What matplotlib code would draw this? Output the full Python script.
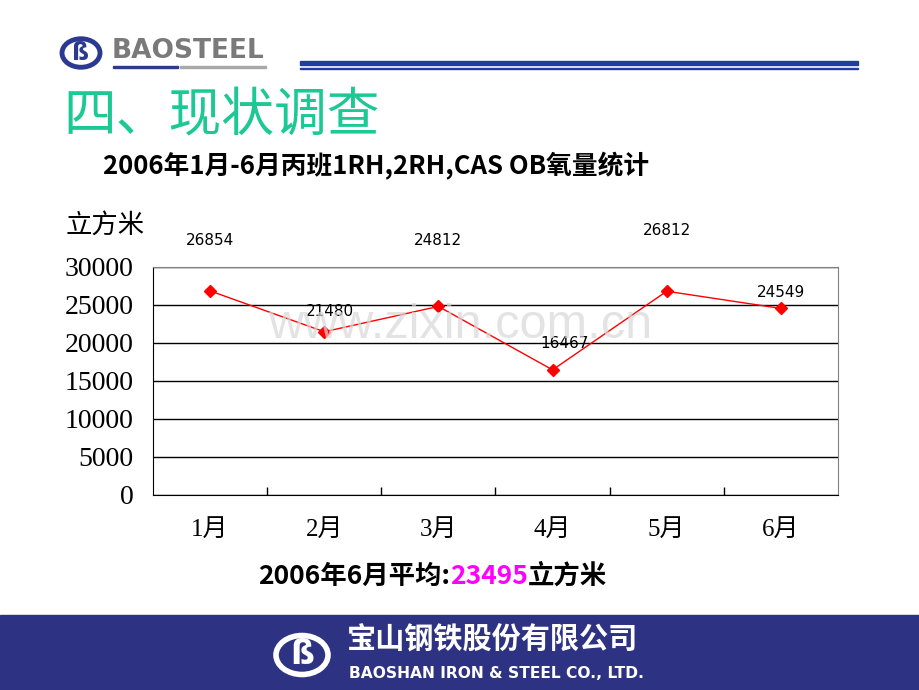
import matplotlib.pyplot as plt
from matplotlib.patches import Circle, Rectangle
import numpy as np

# Data
months = ['1月', '2月', '3月', '4月', '5月', '6月']
oxygen = [26854, 21480, 24812, 16467, 26812, 24549]
y_ticks = [0, 5000, 10000, 15000, 20000, 25000, 30000]
# where each value label sits (data units, layout only)
label_y = [33550, 24100, 33550, 20000, 34850, 26700]
label_dx = [0.0, 0.05, 0.0, 0.1, 0.0, 0.0]

W, H = 920, 690
CJK = ['Noto Sans CJK SC', 'DejaVu Sans']
SERIF_CJK = ['Liberation Serif', 'Noto Sans CJK SC']

fig = plt.figure(figsize=(W / 100, H / 100), dpi=100)


def fx(x):
    return x / W


def fy(y):
    return 1 - y / H


# Header: logo, name and double blue rule
fig.patches.append(Circle((fx(81), fy(53)), 19 / W, transform=fig.transFigure,
                          fill=False, ec='#2B3990', lw=3.5))
fig.text(fx(81), fy(53), 'ß', color='#2B3990', fontsize=17, fontweight='bold',
         ha='center', va='center')
fig.text(fx(112), fy(51), 'BAOSTEEL', color='#7A7A7A', fontsize=19,
         fontweight='bold', family='DejaVu Sans', ha='left', va='center')
fig.patches.append(Rectangle((fx(113), fy(68)), fx(65), 2 / H,
                             transform=fig.transFigure, color='#2B3990'))
fig.patches.append(Rectangle((fx(180), fy(68)), fx(86), 2 / H,
                             transform=fig.transFigure, color='#A8A8A8'))
fig.patches.append(Rectangle((fx(300), fy(65)), fx(558), 4 / H,
                             transform=fig.transFigure, color='#1F3C9E'))
fig.patches.append(Rectangle((fx(300), fy(69)), fx(558), 1.5 / H,
                             transform=fig.transFigure, color='#1F3C9E'))

# Titles
fig.text(fx(63), fy(116), '四、现状调查', color='#1CC893', fontsize=38,
         family=CJK, ha='left', va='center')
fig.text(fx(103), fy(166), '2006年1月-6月丙班1RH,2RH,CAS OB氧量统计',
         fontsize=18.5, fontweight='bold', family=CJK, ha='left', va='center')
fig.text(fx(66), fy(225), '立方米', fontsize=19, family=CJK,
         ha='left', va='center')

# Chart
ax = fig.add_axes([fx(153), fy(495), fx(838 - 153), (495 - 267) / H])
x = np.arange(len(months))
ax.plot(x, oxygen, color='#FF0000', lw=1, marker='D', ms=6,
        mfc='#FF0000', mec='#FF0000', zorder=3, clip_on=False)
for xi, v, ly, dx in zip(x, oxygen, label_y, label_dx):
    ax.text(xi + dx, ly, str(v), fontsize=11, ha='center', va='center',
            clip_on=False, zorder=4)

ax.set_xlim(-0.5, len(months) - 0.5)
ax.set_ylim(0, 30000)
ax.set_yticks(y_ticks)
ax.set_yticklabels([str(t) for t in y_ticks], family='Liberation Serif',
                   fontsize=20)
ax.set_xticks(x)
ax.set_xticklabels(months, family=SERIF_CJK, fontsize=18)
ax.set_xticks(x[:-1] + 0.5, minor=True)
ax.tick_params(axis='x', which='major', length=0, pad=17)
ax.tick_params(axis='x', which='minor', direction='in', length=6, width=1)
ax.tick_params(axis='y', length=0, pad=14)
ax.grid(axis='y', color='black', lw=1)
ax.set_axisbelow(True)
for side in ['left', 'bottom']:
    ax.spines[side].set_color('black')
for side in ['top', 'right']:
    ax.spines[side].set_color('#808080')

# Watermark
fig.text(fx(460), fy(326), 'www.zixin.com.cn', color='#D8D8D8', fontsize=35,
         family='Liberation Sans', ha='center', va='center', alpha=0.7,
         zorder=0)

# Average line of text
avg_parts = [('2006年6月平均:', 'black'), ('23495', '#FF00FF'), ('立方米', 'black')]
t = fig.text(fx(258), fy(576), avg_parts[0][0], fontsize=19, fontweight='bold',
             family=CJK, ha='left', va='center', color=avg_parts[0][1])
fig.canvas.draw()
for txt, col in avg_parts[1:]:
    bb = t.get_window_extent()
    t = fig.text(bb.x1 / W, fy(576), txt, fontsize=19, fontweight='bold',
                 family=CJK, ha='left', va='center', color=col)
    fig.canvas.draw()

# Footer band
fig.patches.append(Rectangle((0, 0), 1, fy(615), transform=fig.transFigure,
                             color='#2E3282', zorder=0))
fig.patches.append(Circle((fx(302), fy(655)), 26 / W, transform=fig.transFigure,
                          fill=False, ec='white', lw=4))
fig.text(fx(302), fy(655), 'ß', color='white', fontsize=24, fontweight='bold',
         ha='center', va='center')
fig.text(fx(347), fy(640), '宝山钢铁股份有限公司', color='white', fontsize=21,
         fontweight='bold', family=CJK, ha='left', va='center')
fig.text(fx(349), fy(674), 'BAOSHAN IRON & STEEL CO., LTD.', color='white',
         fontsize=11.2, fontweight='bold', family='DejaVu Sans',
         ha='left', va='center')

fig.savefig('out.png', dpi=100)
